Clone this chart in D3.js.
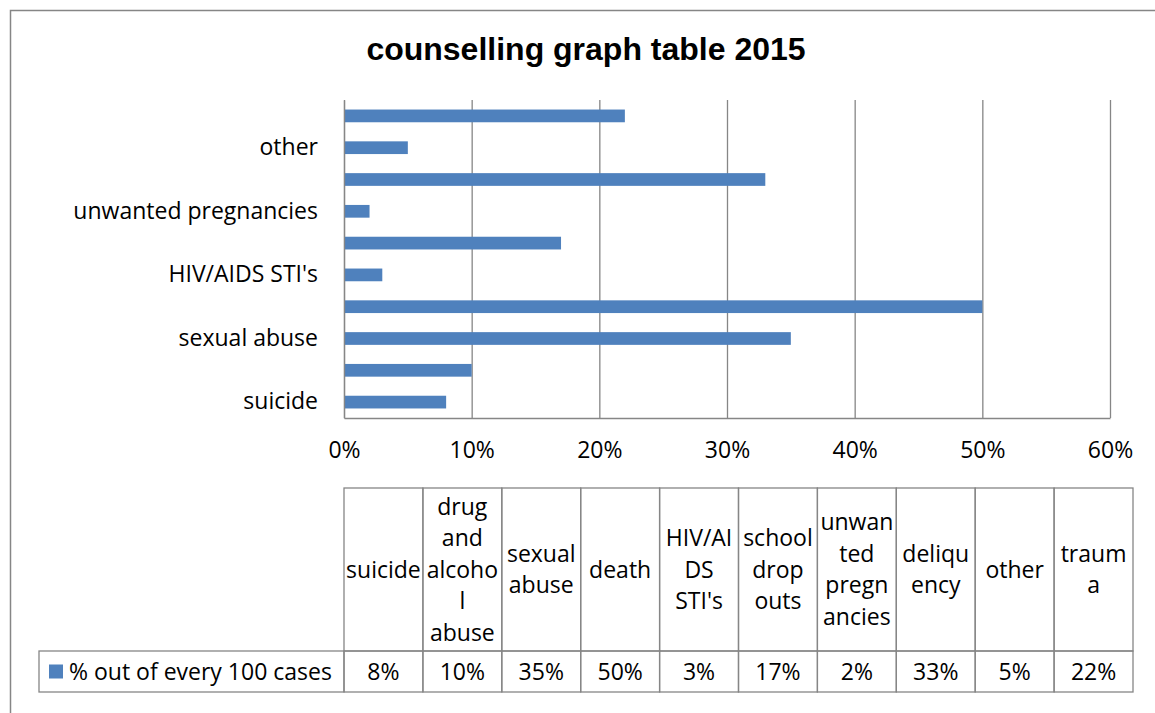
<!DOCTYPE html>
<html lang="en">
<head>
<meta charset="UTF-8">
<title>counselling graph table 2015</title>
<script src="https://cdn.jsdelivr.net/npm/d3@7"></script>
<style>
  body { margin: 0; background: #fff; }
  svg text { font-family: "Open Sans", Lato, sans-serif; fill: #000; }
  .title { font-family: "Liberation Sans", Arial, sans-serif !important; font-weight: bold; font-size: 32px; }
  .axis text { font-size: 23px; }
  .cell text { font-size: 23px; }
</style>
</head>
<body>
<div id="chart"></div>
<script>
// data
const categories = ["suicide", "drug and alcohol abuse", "sexual abuse", "death", "HIV/AIDS STI's",
                    "school drop outs", "unwanted pregnancies", "deliquency", "other", "trauma"];
const values = [0.08, 0.10, 0.35, 0.50, 0.03, 0.17, 0.02, 0.33, 0.05, 0.22];
// header text as wrapped in the data table
const headerLines = [["suicide"], ["drug", "and", "alcoho", "l", "abuse"], ["sexual", "abuse"], ["death"],
                     ["HIV/AI", "DS", "STI's"], ["school", "drop", "outs"], ["unwan", "ted", "pregn", "ancies"],
                     ["deliqu", "ency"], ["other"], ["traum", "a"]];
const seriesName = "% out of every 100 cases";
const xTicks = [0, 0.1, 0.2, 0.3, 0.4, 0.5, 0.6];

const width = 1155, height = 713;
const barColor = "#4F81BD", lineColor = "#868686";
const plot = { left: 344, right: 1110, top: 100, bottom: 418 };

const svg = d3.select("#chart").append("svg")
    .attr("width", width)
    .attr("height", height);

// chart frame
svg.append("rect")
    .attr("x", 10.5).attr("y", 10.5)
    .attr("width", 1200).attr("height", 800)
    .attr("fill", "none").attr("stroke", lineColor).attr("stroke-width", 1.5);

svg.append("text")
    .attr("class", "title")
    .attr("x", 586).attr("y", 60)
    .attr("text-anchor", "middle")
    .text("counselling graph table 2015");

const x = d3.scaleLinear().domain([0, 0.6]).range([plot.left, plot.right]);
const y = d3.scaleBand().domain(categories).range([plot.bottom, plot.top]).paddingInner(0.6).paddingOuter(0.3);

// gridlines
svg.append("g")
    .attr("transform", `translate(0,${plot.bottom})`)
    .call(d3.axisBottom(x).tickValues(xTicks).tickSize(-(plot.bottom - plot.top)).tickFormat(""))
    .call(g => g.select(".domain").remove())
    .call(g => g.selectAll("line").attr("stroke", lineColor).attr("stroke-width", 1.3));

// x axis labels
svg.append("g")
    .attr("class", "axis")
    .attr("transform", `translate(0,${plot.bottom})`)
    .call(d3.axisBottom(x).tickValues(xTicks).tickSize(0).tickPadding(24).tickFormat(d3.format(".0%")))
    .call(g => g.select(".domain").attr("stroke", lineColor).attr("stroke-width", 1.3));

// bars
svg.append("g").selectAll("rect")
    .data(values)
    .join("rect")
    .attr("x", x(0))
    .attr("y", (d, i) => y(categories[i]))
    .attr("width", d => x(d) - x(0))
    .attr("height", y.bandwidth())
    .attr("fill", barColor);

// y axis (every second label shown)
svg.append("g")
    .attr("class", "axis")
    .attr("transform", `translate(${plot.left},0)`)
    .call(d3.axisLeft(y).tickSize(0).tickPadding(26)
        .tickFormat((d, i) => i % 2 === 0 ? d : ""))
    .call(g => g.select(".domain").attr("stroke", lineColor).attr("stroke-width", 1.3));

// data table
const table = { left: 344, right: 1133, top: 488, mid: 651, bottom: 692, legendLeft: 39 };
const col = d3.scaleBand().domain(categories).range([table.left, table.right]);
const lineH = 31.5;

const cells = svg.append("g").attr("class", "cell");

cells.selectAll("rect.head")
    .data(categories)
    .join("rect")
    .attr("class", "head")
    .attr("x", d => col(d)).attr("y", table.top)
    .attr("width", col.bandwidth()).attr("height", table.mid - table.top)
    .attr("fill", "none").attr("stroke", lineColor).attr("stroke-width", 1.3);

cells.selectAll("rect.val")
    .data(categories)
    .join("rect")
    .attr("class", "val")
    .attr("x", d => col(d)).attr("y", table.mid)
    .attr("width", col.bandwidth()).attr("height", table.bottom - table.mid)
    .attr("fill", "none").attr("stroke", lineColor).attr("stroke-width", 1.3);

cells.append("rect")
    .attr("x", table.legendLeft).attr("y", table.mid)
    .attr("width", table.left - table.legendLeft).attr("height", table.bottom - table.mid)
    .attr("fill", "none").attr("stroke", lineColor).attr("stroke-width", 1.3);

const headMid = (table.top + table.mid) / 2;
cells.selectAll("text.head")
    .data(categories)
    .join("text")
    .attr("class", "head")
    .attr("text-anchor", "middle")
    .attr("x", d => col(d) + col.bandwidth() / 2)
    .each(function(d, i) {
        const lines = headerLines[i];
        const start = headMid - (lines.length - 1) * lineH / 2;
        d3.select(this).selectAll("tspan")
            .data(lines)
            .join("tspan")
            .attr("x", col(d) + col.bandwidth() / 2)
            .attr("y", (l, j) => start + j * lineH)
            .attr("dy", "0.35em")
            .text(l => l);
    });

const valMid = (table.mid + table.bottom) / 2;
cells.selectAll("text.val")
    .data(values)
    .join("text")
    .attr("class", "val")
    .attr("text-anchor", "middle")
    .attr("x", (d, i) => col(categories[i]) + col.bandwidth() / 2)
    .attr("y", valMid)
    .attr("dy", "0.35em")
    .text(d => d3.format(".0%")(d));

// legend key
cells.append("rect")
    .attr("x", 49).attr("y", valMid - 7)
    .attr("width", 14).attr("height", 14)
    .attr("fill", barColor);
cells.append("text")
    .attr("x", 69).attr("y", valMid)
    .attr("dy", "0.35em")
    .text(seriesName);
</script>
</body>
</html>
